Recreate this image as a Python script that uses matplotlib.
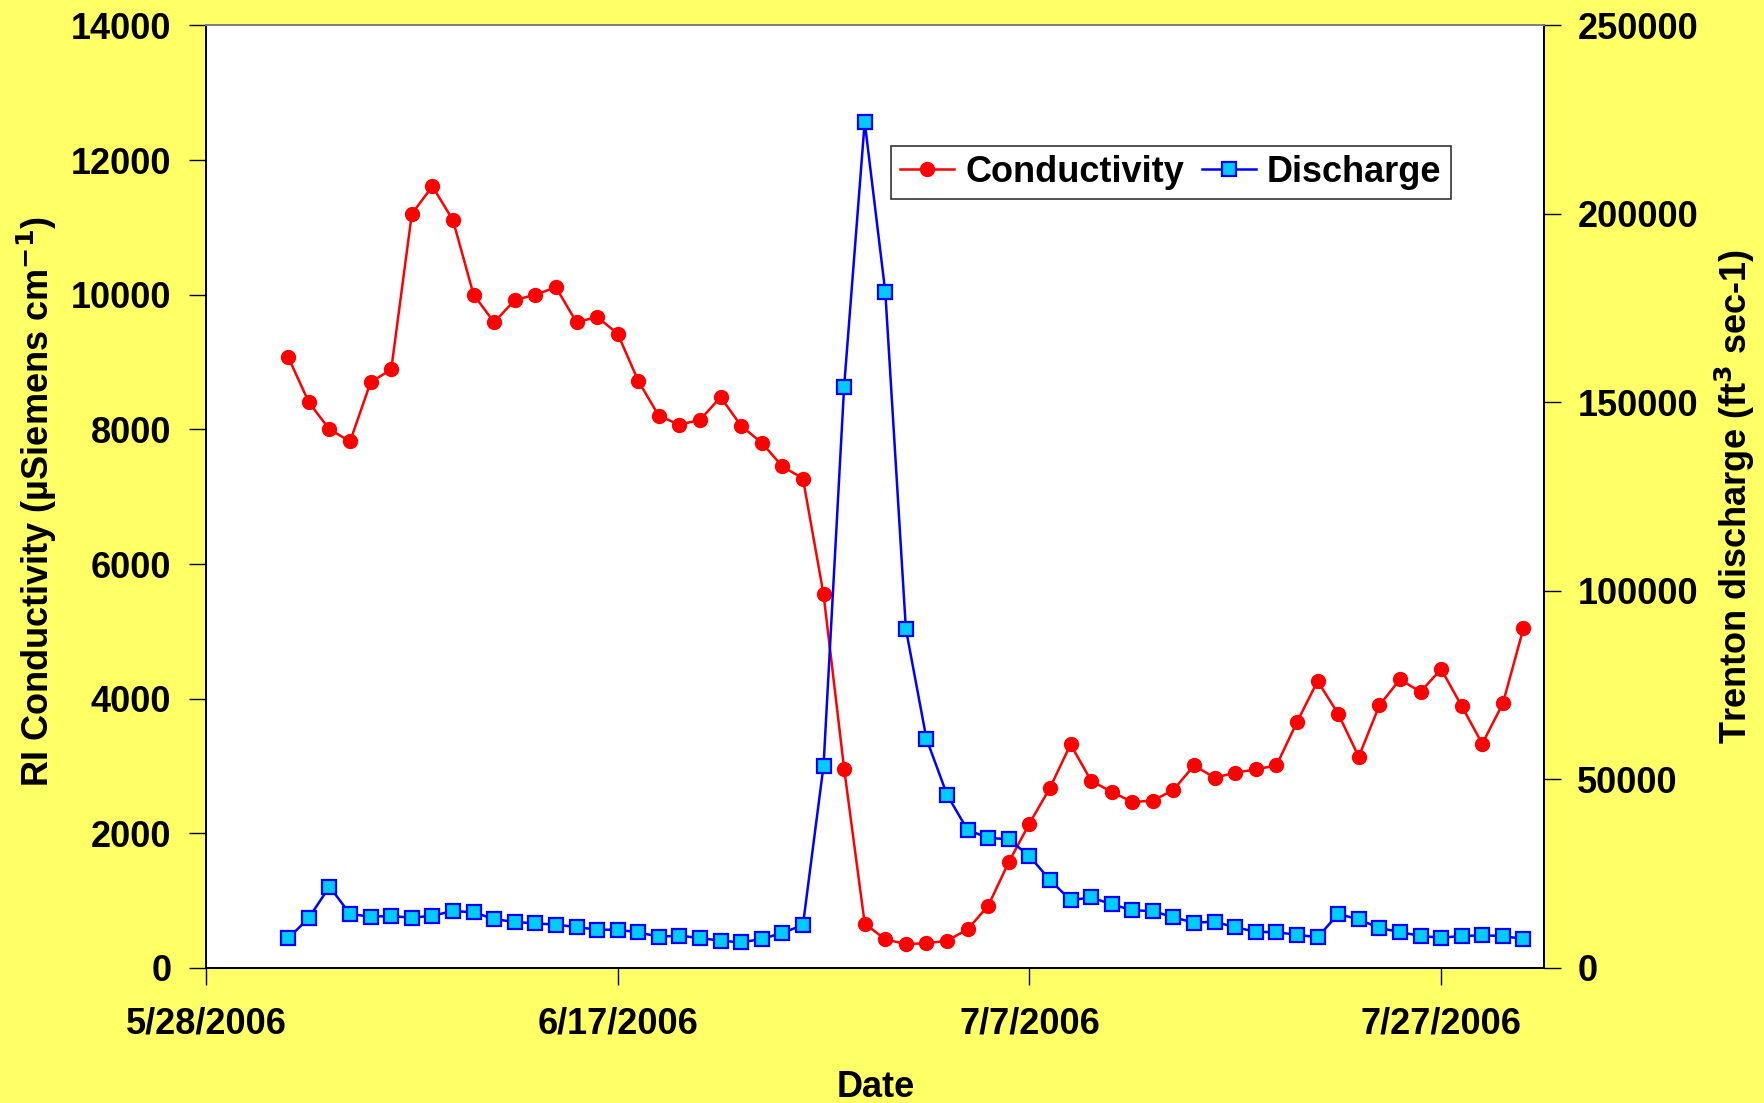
import datetime as dt

import matplotlib
matplotlib.use("Agg")
import matplotlib.pyplot as plt
import matplotlib.dates as mdates
from matplotlib.ticker import FuncFormatter

plt.rcParams["font.family"] = ["Liberation Sans", "DejaVu Sans"]
plt.rcParams["font.weight"] = "bold"

# daily readings, 6/1/2006 .. 7/31/2006
start = dt.date(2006, 6, 1)
conductivity = [
    9070, 8400, 8000, 7820, 8700, 8890, 11200, 11610, 11105, 10000,
    9590, 9920, 10000, 10110, 9590, 9670, 9420, 8720, 8200, 8070,
    8140, 8480, 8050, 7800, 7450, 7270, 5550, 2960, 660, 425,
    356, 366, 406, 574, 925, 1574, 2145, 2675, 3321, 2781,
    2615, 2466, 2485, 2645, 3009, 2826, 2900, 2950, 3009, 3652,
    4261, 3776, 3137, 3900, 4286, 4102, 4439, 3890, 3330, 3929,
    5045,
]
discharge = [
    7870, 13340, 21560, 14320, 13610, 13790, 13340, 13870, 15110, 14760,
    12990, 12190, 11840, 11490, 10870, 10160, 10160, 9460, 8300, 8570,
    7950, 7240, 6800, 7690, 9300, 11400, 53630, 154200, 224400, 179300,
    89950, 60790, 45940, 36580, 34550, 34110, 29690, 23330, 17990, 18700,
    16920, 15290, 15110, 13430, 12020, 12280, 10780, 9630, 9450, 8840,
    8130, 14320, 12900, 10600, 9540, 8480, 8040, 8480, 8660, 8480,
    7690,
]
dates = [start + dt.timedelta(days=i) for i in range(len(conductivity))]

x_start = dt.date(2006, 5, 28)
x_end = dt.date(2006, 8, 1)
x_ticks = [dt.date(2006, 5, 28), dt.date(2006, 6, 17), dt.date(2006, 7, 7), dt.date(2006, 7, 27)]
left_ticks = list(range(0, 14001, 2000))
right_ticks = list(range(0, 250001, 50000))

YELLOW = "#FFFF66"
FS = 26

fig = plt.figure(figsize=(17.65, 11.03), dpi=100, facecolor=YELLOW)
ax = fig.add_axes([0.1167, 0.1224, 0.7581, 0.8546])
ax.set_facecolor("white")
ax2 = ax.twinx()

l1, = ax.plot(dates, conductivity, color="#FF0000", lw=1.8, marker="o",
              ms=10, mfc="#FF0000", mec="#FF0000", label="Conductivity", zorder=3)
l2, = ax2.plot(dates, discharge, color="#0000FF", lw=1.8, marker="s",
               ms=9.5, mfc="#00CCFF", mec="#0000FF", mew=1.6, label="Discharge", zorder=3)

ax.set_xlim(x_start, x_end)
ax.set_xticks(x_ticks)
ax.xaxis.set_major_formatter(FuncFormatter(
    lambda v, pos: "{d.month}/{d.day}/{d.year}".format(d=mdates.num2date(v))))
ax.set_ylim(0, 14000)
ax.set_yticks(left_ticks)
ax2.set_ylim(0, 250000)
ax2.set_yticks(right_ticks)

ax.tick_params(axis="y", direction="out", length=12, width=1, pad=13, labelsize=FS)
ax.tick_params(axis="x", direction="out", length=12, width=1, pad=16, labelsize=FS)
ax2.tick_params(axis="y", direction="out", length=12, width=1, pad=12, labelsize=FS)

for a in (ax, ax2):
    for side in ("left", "right", "bottom"):
        a.spines[side].set_color("black")
        a.spines[side].set_linewidth(1.3)
    a.spines["top"].set_color("#808080")
    a.spines["top"].set_linewidth(1.3)

fig.text(0.021, 0.545, r"RI Conductivity (µSiemens cm$^{\mathbf{-1}}$)", rotation=90,
         ha="center", va="center", fontsize=FS, fontweight="bold")
fig.text(0.983, 0.55, r"Trenton discharge (ft$^{\mathbf{3}}$ sec-1)", rotation=90,
         ha="center", va="center", fontsize=FS, fontweight="bold")
fig.text(0.496, 0.014, "Date", ha="center", va="center", fontsize=FS, fontweight="bold")

leg = ax2.legend(handles=[l1, l2], loc="upper left", bbox_to_anchor=(0.512, 0.872),
                 ncol=2, fontsize=FS, frameon=True, fancybox=False, handlelength=1.5,
                 handletextpad=0.3, columnspacing=0.5, borderpad=0.25, borderaxespad=0)
leg.get_frame().set_edgecolor("black")
leg.get_frame().set_linewidth(1.2)

fig.savefig("out.png", dpi=100, facecolor=YELLOW)
